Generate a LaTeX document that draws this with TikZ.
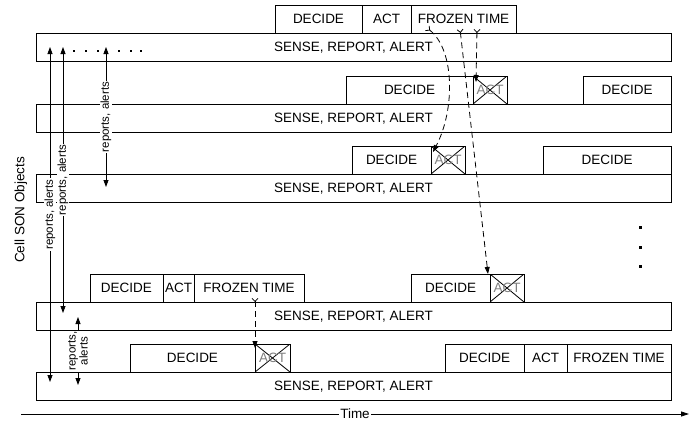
\documentclass[tikz,border=0pt]{standalone}
\usepackage{fontspec}
\setmainfont{Liberation Sans}
\usetikzlibrary{positioning,arrows.meta}

\tikzset{
  bar/.style={draw, minimum width=635pt, minimum height=28.5pt, inner sep=0pt, outer sep=0pt, anchor=north west},
  phase/.style={draw, minimum height=28pt, inner sep=0pt, outer sep=0pt, anchor=south west},
  skipped/.style={phase, minimum width=34pt, text=gray,
    path picture={\draw (path picture bounding box.north west) -- (path picture bounding box.south east)
      (path picture bounding box.north east) -- (path picture bounding box.south west);}},
  report/.style={{Triangle[length=7pt,width=5pt]}-{Triangle[length=7pt,width=5pt]}},
  lbl/.style={fill=white, rotate=90, inner sep=1pt, font=\fontsize{11.5}{12}\selectfont},
  freeze/.style={{Straight Barb[reversed,length=3pt,width=6pt]}-{Triangle[length=7pt,width=5pt]}, dash pattern=on 6pt off 4pt}
}

\begin{document}
\begin{tikzpicture}[x=1pt, y=-1pt, line width=0.8pt, font=\fontsize{13.5}{15}\selectfont]
 \useasboundingbox (0,0) rectangle (698,424);

 \node[bar] (s1) at (36,33) {SENSE, REPORT, ALERT};
 \node[bar] (s2) at (36,104) {SENSE, REPORT, ALERT};
 \node[bar] (s3) at (36,174) {SENSE, REPORT, ALERT};
 \node[bar] (s4) at (36,302) {SENSE, REPORT, ALERT};
 \node[bar] (s5) at (36,372) {SENSE, REPORT, ALERT};

 \node[phase, minimum width=87pt] (d1) at ([xshift=239pt]s1.north west) {DECIDE};
 \node[phase, minimum width=49pt, right=0pt of d1.south east, anchor=south west] (a1) {ACT};
 \node[phase, minimum width=105pt, right=0pt of a1.south east, anchor=south west] (f1) {FROZEN TIME};

 \node[phase, minimum width=127pt] (d2) at ([xshift=310pt]s2.north west) {DECIDE};
 \node[skipped, right=0pt of d2.south east, anchor=south west] (x2) {ACT};
 \node[phase, minimum width=88pt] (d2b) at ([xshift=547pt]s2.north west) {DECIDE};

 \node[phase, minimum width=79pt] (d3) at ([xshift=316pt]s3.north west) {DECIDE};
 \node[skipped, right=0pt of d3.south east, anchor=south west] (x3) {ACT};
 \node[phase, minimum width=128pt] (d3b) at ([xshift=507pt]s3.north west) {DECIDE};

 \node[phase, minimum width=73pt] (d4) at ([xshift=54pt]s4.north west) {DECIDE};
 \node[phase, minimum width=31pt, right=0pt of d4.south east, anchor=south west] (a4) {ACT};
 \node[phase, minimum width=110pt, right=0pt of a4.south east, anchor=south west] (f4) {FROZEN TIME};
 \node[phase, minimum width=79pt] (d4b) at ([xshift=375pt]s4.north west) {DECIDE};
 \node[skipped, right=0pt of d4b.south east, anchor=south west] (x4) {ACT};

 \node[phase, minimum width=125pt] (d5) at ([xshift=94pt]s5.north west) {DECIDE};
 \node[skipped, minimum width=35pt, right=0pt of d5.south east, anchor=south west] (x5) {ACT};
 \node[phase, minimum width=79pt] (d5b) at ([xshift=409pt]s5.north west) {DECIDE};
 \node[phase, minimum width=43pt, right=0pt of d5b.south east, anchor=south west] (a5) {ACT};
 \node[phase, minimum width=104pt, right=0pt of a5.south east, anchor=south west] (f5) {FROZEN TIME};

 \node[rotate=90] (cells) at (21,210) {Cell SON Objects};

 \coordinate (r1a) at ([xshift=14pt,yshift=-14pt]s1.north west);
 \coordinate (r1b) at ([xshift=14pt,yshift=-10pt]s5.north west);
 \coordinate (r2a) at ([xshift=27pt,yshift=-14pt]s1.north west);
 \coordinate (r2b) at ([xshift=27pt,yshift=-11pt]s4.north west);
 \coordinate (r3a) at ([xshift=70pt,yshift=-14pt]s1.north west);
 \coordinate (r3b) at ([xshift=70pt,yshift=-13pt]s3.north west);
 \coordinate (r4a) at ([xshift=42pt,yshift=-15pt]s4.north west);
 \coordinate (r4b) at ([xshift=42pt,yshift=-13pt]s5.north west);

 \draw[report] (r1b) -- node[lbl, midway] {reports, alerts} (r1a);
 \draw[report] (r2b) -- node[lbl, midway] {reports, alerts} (r2a);
 \draw[report] (r3b) -- node[lbl, midway] {reports, alerts} (r3a);
 \draw[report] (r4b) -- node[lbl, midway, align=center, font=\fontsize{11.5}{12}\selectfont] {reports,\\alerts} (r4a);

 \foreach \x in {37,49,61,82,94,104}
  \fill ([xshift=\x pt, yshift=-17pt]s1.north west) rectangle ++(1.6,1.6);
 \foreach \y in {226,246,265}
  \fill (639,\y) rectangle ++(3,3);

 \coordinate (fz1) at ([xshift=66pt,yshift=4pt]f1.south west);
 \coordinate (fz2) at ([xshift=49pt,yshift=4pt]f1.south west);
 \coordinate (fz3) at ([xshift=16pt,yshift=5pt]f1.south west);
 \coordinate (fz4) at ([xshift=61pt,yshift=4pt]f4.south west);

 \draw[freeze] (fz1) -- ([xshift=3pt,yshift=-6pt]x2.north west);
 \draw[freeze] (fz2) -- ([xshift=-2pt]x4.north west);
 \draw[freeze] (fz3) .. controls (455,50) and (455,110) .. ([xshift=2pt,yshift=-6pt]x3.north west);
 \draw[freeze] (fz4) -- ([yshift=-4pt]x5.north west);

 \coordinate (t0) at (21,414);
 \coordinate (t1) at (689,414);
 \draw[-{Triangle[length=8pt,width=5pt]}] (t0) -- node[fill=white, inner sep=1pt, midway] {Time} (t1);
\end{tikzpicture}
\end{document}
